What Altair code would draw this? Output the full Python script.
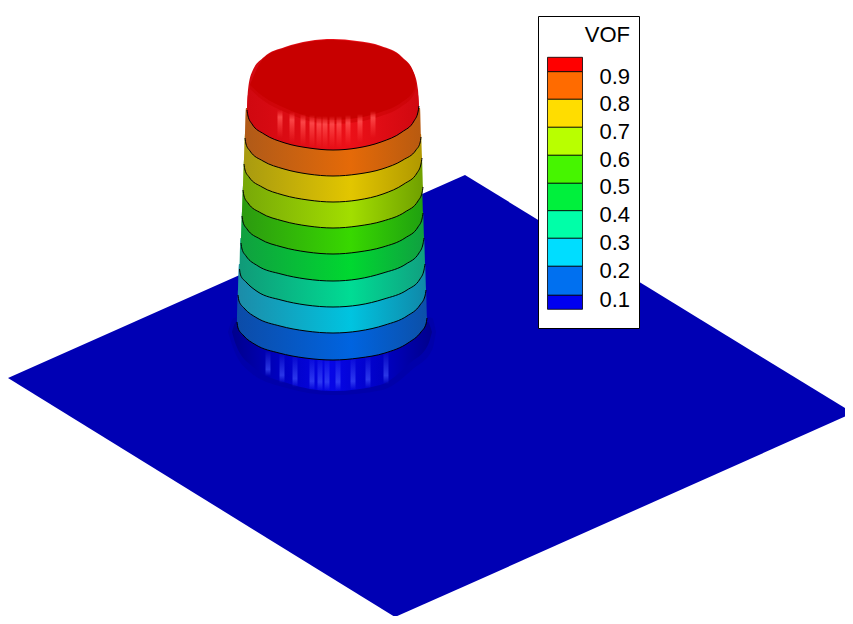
import altair as alt
import pandas as pd

# plane outline
plane_x = [8, 395, 465, 853]
plane_top = [378, 206, 175, 413]
plane_bottom = [378, 617, 586, 413]
plane_color = "#0000B4"

# skirt at the foot of the column
skirt_x = [232, 236, 253, 287, 333, 380, 410, 428, 432]
skirt_low = [332, 345, 367, 383, 391, 385, 363, 345, 332]
skirt_high = [332, 322, 318, 318, 318, 318, 318, 322, 332]
skirt_halo_x = [228, 234, 250, 287, 333, 382, 414, 432, 436]
skirt_halo_low = [332, 350, 372, 388, 395, 390, 368, 350, 332]
skirt_halo_high = [332, 318, 316, 316, 316, 316, 316, 318, 332]

# streaks below the lowest contour
skirt_streak_x = [268, 282, 295, 312, 320, 327, 338, 353, 368, 386]
skirt_streak_bottom = [376, 383, 387, 390, 391, 391, 391, 390, 388, 384]
skirt_streak_top = [350, 352, 354, 355, 355, 355, 355, 355, 354, 350]

# contour curves, lowest first
curve_x = [
    [237, 238, 243, 256, 279, 305, 333, 359, 385, 408, 421, 426, 427],
    [238, 239, 244, 257, 280, 306, 333, 359, 385, 407, 420, 425, 426],
    [239.5, 240.5, 246, 258, 281, 306, 333, 359, 384, 407, 420, 424, 425],
    [241, 242, 246, 258, 281, 306, 333, 358, 383, 406, 419, 423, 424],
    [242, 243, 247, 260, 282, 307, 333, 358, 383, 405, 418, 422, 423],
    [243, 244, 248, 261, 283, 308, 333, 358, 383, 405, 418, 422, 423],
    [244, 245, 249, 262, 283, 308, 333, 358, 383, 404, 417, 421, 422],
    [245, 246, 250, 263, 284, 308, 333, 358, 382, 403, 416, 420, 421],
    [247, 248, 252, 264, 285, 309, 333, 357, 381, 402, 414, 418, 419],
]
curve_y = [
    [322, 328, 335, 345, 353, 358, 360, 358, 353, 343, 332, 324, 318],
    [295, 301, 308, 318, 326, 331, 333, 331, 325, 316, 305, 296, 290],
    [269, 275, 282, 292, 300, 305, 307, 305, 299, 290, 279, 270, 264],
    [243, 249, 256, 266, 274, 279, 281, 279, 273, 264, 253, 244, 238],
    [216, 222, 229, 239, 247, 252, 254, 252, 247, 238, 227, 219, 213],
    [190, 196, 203, 213, 221, 226, 228, 226, 221, 212, 201, 193, 187],
    [164, 170, 177, 187, 195, 200, 202, 200, 194, 184, 173, 164, 158],
    [138, 144, 151, 161, 169, 174, 176, 174, 169, 160, 150, 143, 137],
    [110, 116, 124, 134, 143, 148, 150, 148, 142, 132, 121, 112, 106],
]
band_top = [290, 264, 238, 212, 186, 160, 134, 108, 95]
band_colors = [
    ["#0C4CA8", "#0064E0", "#0C50A8"],
    ["#1C8CA8", "#00C4E0", "#1088A8"],
    ["#109A78", "#00DC94", "#10A080"],
    ["#10A040", "#00D830", "#10A040"],
    ["#2C9A10", "#38D800", "#20A010"],
    ["#78A808", "#A2DE00", "#70A000"],
    ["#A89A10", "#E2C600", "#B09800"],
    ["#B05A18", "#E56A08", "#B85A10"],
    ["#C80010", "#F01020", "#C80010"],
]
band_stops = [0, 0.6, 1]

# red top of the column
cap_x = [247, 248, 252, 264, 285, 309, 333, 357, 381, 402, 414, 418, 419]
cap_top = [110, 90, 72, 57, 47, 41, 39, 41, 46, 57, 73, 90, 106]
cap_low = [110, 116, 124, 134, 143, 148, 150, 148, 142, 132, 121, 112, 106]
face_x = [250, 264, 285, 309, 333, 357, 381, 402, 414, 416]
face_top = [85, 58, 48, 42, 40, 42, 47, 58, 74, 85]
face_low = [85, 97, 108, 117, 120, 118, 112, 102, 90, 85]
face_color = "#C80000"
cap_streak_x = [280, 292, 303, 312, 319, 325, 332, 339, 348, 360, 373]
cap_streak_top = [110, 112, 114, 115, 116, 116, 116, 116, 115, 114, 111]
cap_streak_bottom = [138, 143, 146, 148, 149, 149, 148, 148, 146, 143, 138]

# legend
legend_title = "VOF"
legend_labels = ["0.9", "0.8", "0.7", "0.6", "0.5", "0.4", "0.3", "0.2", "0.1"]
legend_label_y = [76.5, 104, 132, 159.5, 187, 215, 243, 271, 300]
legend_edges = [57.3, 71.7, 99.3, 127.3, 155.3, 183.3, 210.7, 238.3, 266.3, 295.3, 309.3]
legend_colors = ["#FF0000", "#FF6B00", "#FFDD00", "#B9FF00", "#46F500",
                 "#00F03C", "#00FFA8", "#00DDFF", "#0070F0", "#0000F0"]

X = alt.Scale(domain=[8, 845], nice=False, zero=False)
Y = alt.Scale(domain=[616, 8], nice=False, zero=False)


def xenc(name="x"):
    return alt.X(f"{name}:Q", scale=X, axis=None)


def yenc(name="y"):
    return alt.Y(f"{name}:Q", scale=Y, axis=None)


def hgrad(stops, offsets=None):
    n = len(stops) - 1
    offs = offsets or [i / n for i in range(n + 1)]
    return alt.LinearGradient(
        gradient="linear", x1=0, x2=1, y1=0, y2=0,
        stops=[alt.GradientStop(color=c, offset=o) for c, o in zip(stops, offs)],
    )


def area(xs, low, high, color, opacity=1.0, interpolate="monotone"):
    df = pd.DataFrame({"x": xs, "y": low, "y2": high})
    return alt.Chart(df).mark_area(
        color=color, opacity=opacity, interpolate=interpolate, clip=True
    ).encode(x=xenc(), y=yenc(), y2="y2:Q")


def streaks(xs, tops, bottoms, half, stops):
    df = pd.DataFrame({"a": [v - half for v in xs], "b": [v + half for v in xs],
                       "t": tops, "u": bottoms})
    grad = alt.LinearGradient(
        gradient="linear", x1=0, x2=0, y1=0, y2=1,
        stops=[alt.GradientStop(color=c, offset=o) for o, c in stops],
    )
    return alt.Chart(df).mark_rect(color=grad).encode(
        x=xenc("a"), x2="b:Q", y=yenc("t"), y2="u:Q"
    )


layers = [area(plane_x, plane_bottom, plane_top, plane_color, interpolate="linear")]

layers.append(area(skirt_halo_x, skirt_halo_low, skirt_halo_high, "#0000A0", 0.5))
layers.append(area(skirt_x, skirt_low, skirt_high,
                   hgrad(["#00008C", "#0000C4", "#0606E6", "#0000C4", "#00008C"])))
layers.append(streaks(skirt_streak_x, skirt_streak_top, skirt_streak_bottom, 2.5,
                      [(0, "rgba(70,90,255,0)"), (0.75, "rgba(70,90,255,0.6)"),
                       (1, "rgba(70,90,255,0)")]))

for xs, ys, top, cols in zip(curve_x, curve_y, band_top, band_colors):
    tops = [ys[0]] + [top] * (len(ys) - 2) + [ys[-1]]
    layers.append(area(xs, ys, tops, hgrad(cols, band_stops)))

layers.append(area(cap_x, cap_low, cap_top, hgrad(["#D00810", "#EC1018", "#D00810"], band_stops)))
layers.append(area(face_x, [v + 4 for v in face_low], face_top, face_color, 0.5))
layers.append(area(face_x, face_low, face_top, face_color))
layers.append(streaks(cap_streak_x, cap_streak_top, cap_streak_bottom, 2.5,
                      [(0, "rgba(255,70,70,0)"), (0.25, "rgba(255,80,80,0.85)"),
                       (1, "rgba(255,60,60,0)")]))

for xs, ys in zip(curve_x, curve_y):
    df = pd.DataFrame({"x": xs, "y": ys})
    layers.append(alt.Chart(df).mark_line(
        color="black", strokeWidth=1, interpolate="monotone"
    ).encode(x=xenc(), y=yenc()))

frame = pd.DataFrame({"a": [538.5], "b": [639.5], "t": [16.5], "u": [328.5]})
layers.append(alt.Chart(frame).mark_rect(fill="white", stroke="black", strokeWidth=1).encode(
    x=xenc("a"), x2="b:Q", y=yenc("t"), y2="u:Q"))

boxes = pd.DataFrame({"t": legend_edges[:-1], "u": legend_edges[1:],
                      "a": [547.5] * 10, "b": [582.5] * 10, "c": legend_colors})
layers.append(alt.Chart(boxes).mark_rect(stroke="black", strokeWidth=0.8).encode(
    x=xenc("a"), x2="b:Q", y=yenc("t"), y2="u:Q",
    fill=alt.Fill("c:N", scale=None, legend=None)))

labels = pd.DataFrame({"x": [630] * 9, "y": legend_label_y, "t": legend_labels})
layers.append(alt.Chart(labels).mark_text(
    font="Liberation Sans", fontSize=22, align="right", baseline="middle", color="black"
).encode(x=xenc(), y=yenc(), text="t:N"))
title = pd.DataFrame({"x": [630], "y": [34.5], "t": [legend_title]})
layers.append(alt.Chart(title).mark_text(
    font="Liberation Sans", fontSize=22, align="right", baseline="middle", color="black"
).encode(x=xenc(), y=yenc(), text="t:N"))

chart = alt.layer(*layers).properties(
    width=837, height=608, padding=0, autosize=alt.AutoSizeParams(type="none")
).configure_view(stroke=None)

chart.save("out.html", embed_options={"renderer": "svg", "actions": False})
